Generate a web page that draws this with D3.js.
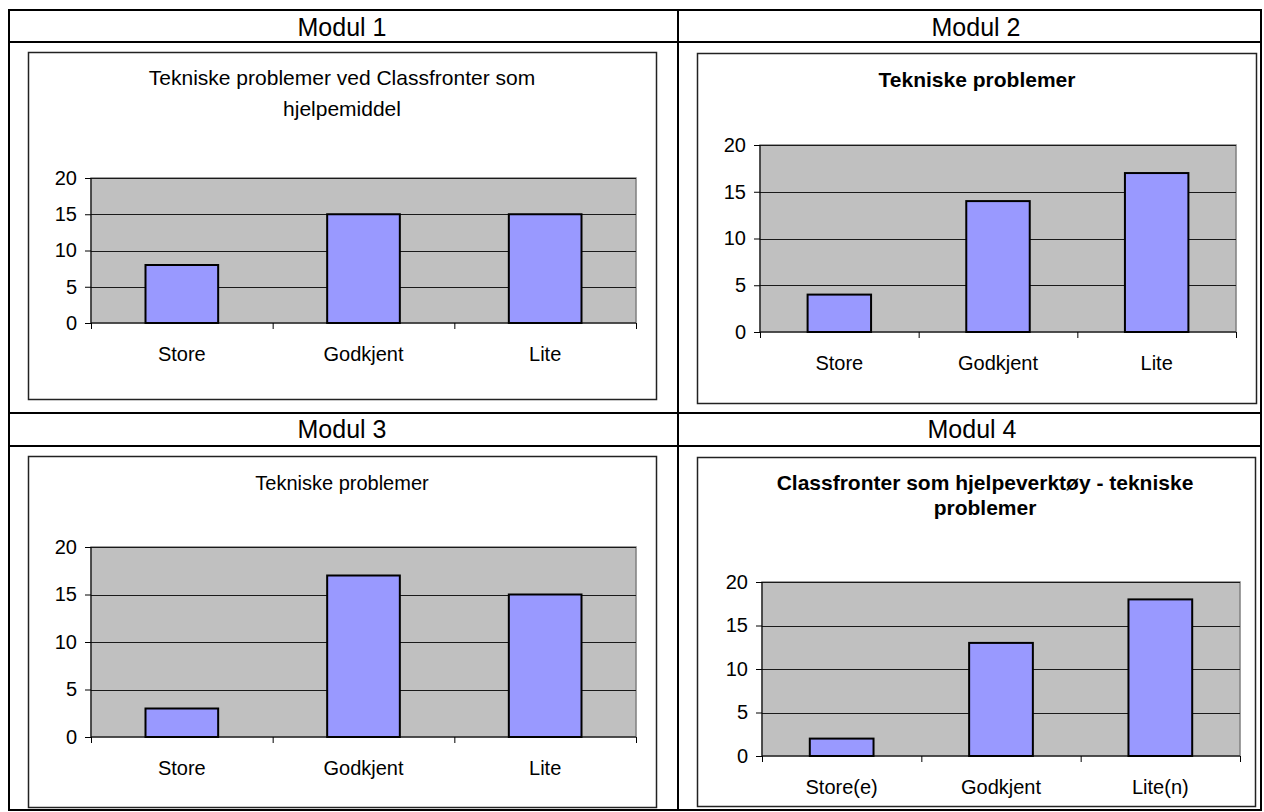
<!DOCTYPE html>
<html>
<head>
<meta charset="utf-8">
<script src="https://cdn.jsdelivr.net/npm/d3@7"></script>
<style>
  html, body { margin: 0; padding: 0; background: #fff; }
  svg { display: block; font-family: "Liberation Sans", Arial, sans-serif; }
</style>
</head>
<body>
<script>
// Module headings and chart data
const moduleNames = ["Modul 1", "Modul 2", "Modul 3", "Modul 4"];
const titlesModul1 = ["Tekniske problemer ved Classfronter som", "hjelpemiddel"];
const titlesModul2 = ["Tekniske problemer"];
const titlesModul3 = ["Tekniske problemer"];
const titlesModul4 = ["Classfronter som hjelpeverktøy - tekniske", "problemer"];
const categoriesA = ["Store", "Godkjent", "Lite"];
const categoriesB = ["Store(e)", "Godkjent", "Lite(n)"];
const valuesModul1 = [8, 15, 15];
const valuesModul2 = [4, 14, 17];
const valuesModul3 = [3, 17, 15];
const valuesModul4 = [2, 13, 18];
const yTickValues = [0, 5, 10, 15, 20];
const yMax = 20;

const W = 1264, H = 812;
const svg = d3.select("body").append("svg").attr("width", W).attr("height", H);

// Layout of each cell: frame box, plot area, title style
const panels = [
  { name: moduleNames[0], title: titlesModul1, bold: false, titleSize: 21, lineGap: 31,
    cats: categoriesA, vals: valuesModul1,
    frame: [28, 52, 656, 399], plot: [91, 178, 636, 323], titleY: 85, titleX: 342, headX: 342, headY: 36 },
  { name: moduleNames[1], title: titlesModul2, bold: true, titleSize: 21, lineGap: 25,
    cats: categoriesA, vals: valuesModul2,
    frame: [697, 53, 1256, 403], plot: [760, 145, 1236, 332], titleY: 87, titleX: 977, headX: 976, headY: 36 },
  { name: moduleNames[2], title: titlesModul3, bold: false, titleSize: 20, lineGap: 25,
    cats: categoriesA, vals: valuesModul3,
    frame: [28, 456, 656, 807], plot: [91, 547, 636, 737], titleY: 490, titleX: 342, headX: 342, headY: 438 },
  { name: moduleNames[3], title: titlesModul4, bold: true, titleSize: 21, lineGap: 25,
    cats: categoriesB, vals: valuesModul4,
    frame: [697, 457, 1255, 806], plot: [762, 582, 1240, 756], titleY: 490, titleX: 985, headX: 972, headY: 438 }
];

// Table grid lines
const table = svg.append("g").attr("stroke", "#000").attr("stroke-width", 2).attr("fill", "none");
table.append("rect").attr("x", 9).attr("y", 10).attr("width", 1252).attr("height", 800);
[42, 413, 446].forEach(y => table.append("line").attr("x1", 9).attr("x2", 1261).attr("y1", y).attr("y2", y));
table.append("line").attr("x1", 678).attr("x2", 678).attr("y1", 10).attr("y2", 810);

panels.forEach(p => {
  // Module heading
  svg.append("text").attr("x", p.headX).attr("y", p.headY)
    .attr("text-anchor", "middle").attr("font-size", 25).attr("fill", "#000").text(p.name);

  const g = svg.append("g");
  const [fx0, fy0, fx1, fy1] = p.frame;
  g.append("rect").attr("x", fx0 + 0.5).attr("y", fy0 + 0.5)
    .attr("width", fx1 - fx0).attr("height", fy1 - fy0)
    .attr("fill", "#fff").attr("stroke", "#222").attr("stroke-width", 1.5);

  // Chart title
  p.title.forEach((line, i) => {
    g.append("text").attr("x", p.titleX).attr("y", p.titleY + i * p.lineGap)
      .attr("text-anchor", "middle").attr("font-size", p.titleSize)
      .attr("font-weight", p.bold ? "bold" : "normal").attr("fill", "#000").text(line);
  });

  const [px0, py0, px1, py1] = p.plot;
  const y = d3.scaleLinear().domain([0, yMax]).range([py1, py0]);
  const x = d3.scaleBand().domain(p.cats).range([px0, px1]).paddingInner(0.6).paddingOuter(0.3);
  const xEdge = d3.scaleLinear().domain([0, p.cats.length]).range([px0, px1]);

  // Plot area
  g.append("rect").attr("x", px0).attr("y", py0).attr("width", px1 - px0).attr("height", py1 - py0)
    .attr("fill", "#c0c0c0").attr("stroke", "#808080").attr("stroke-width", 1.5);

  // Horizontal gridlines
  g.append("g").selectAll("line").data(yTickValues.filter(v => v > 0)).join("line")
    .attr("x1", px0).attr("x2", px1)
    .attr("y1", d => Math.round(y(d)) + 0.5).attr("y2", d => Math.round(y(d)) + 0.5)
    .attr("stroke", "#1a1a1a").attr("stroke-width", 1);

  // Bars
  g.append("g").selectAll("rect").data(p.vals).join("rect")
    .attr("x", (d, i) => x(p.cats[i]))
    .attr("y", d => y(d))
    .attr("width", x.bandwidth())
    .attr("height", d => y(0) - y(d))
    .attr("fill", "#9999ff").attr("stroke", "#000").attr("stroke-width", 2);

  // Value axis
  const yAxis = g.append("g").attr("transform", `translate(${px0},0)`)
    .call(d3.axisLeft(y).tickValues(yTickValues).tickSize(6).tickPadding(8).tickFormat(d3.format("d")));
  yAxis.select(".domain").attr("stroke", "#000").attr("d", `M0,${py0}V${py1}`);
  yAxis.selectAll(".tick line").attr("stroke", "#000");
  yAxis.selectAll(".tick text").attr("font-size", 20).attr("fill", "#000")
    .attr("font-family", "\"Liberation Sans\", Arial, sans-serif");

  // Category axis: boundary ticks plus centred labels
  const xAxis = g.append("g").attr("transform", `translate(0,${py1})`)
    .call(d3.axisBottom(xEdge).tickValues(d3.range(p.cats.length + 1)).tickSize(6).tickFormat(""));
  xAxis.select(".domain").attr("stroke", "#000").attr("d", `M${px0},0H${px1}`);
  xAxis.selectAll(".tick line").attr("stroke", "#000");

  g.append("g").selectAll("text").data(p.cats).join("text")
    .attr("x", d => x(d) + x.bandwidth() / 2)
    .attr("y", py1 + 38)
    .attr("text-anchor", "middle").attr("font-size", 20).attr("fill", "#000").text(d => d);
});
</script>
</body>
</html>
